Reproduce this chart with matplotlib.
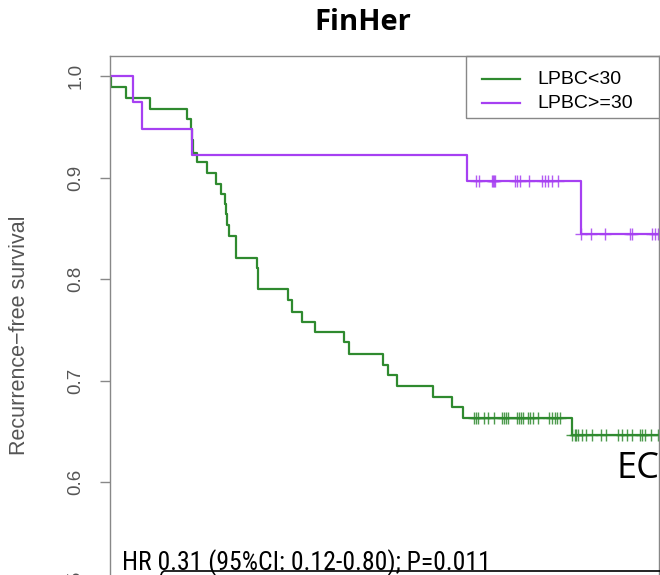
import matplotlib
matplotlib.use("Agg")
import matplotlib.pyplot as plt
import numpy as np
from matplotlib import font_manager
from matplotlib.font_manager import FontProperties
from matplotlib.lines import Line2D
from matplotlib.patches import Rectangle

# Kaplan-Meier steps (months, survival after each event)
green_t = [0, 0.1, 1.71, 4.40, 8.40, 8.84, 8.95, 9.09, 9.52, 10.55, 11.53, 12.08,
           12.58, 12.71, 12.82, 13.01, 13.75, 13.80, 16.07, 16.12, 16.20, 19.39,
           19.82, 20.91, 22.36, 25.56, 26.11, 29.81, 30.36, 31.28, 35.20, 37.28,
           38.54, 50.37, 62]
green_s = [1.0, 0.9895, 0.9786, 0.9678, 0.9583, 0.9478, 0.9372, 0.9241, 0.9156,
           0.9051, 0.8943, 0.8844, 0.8744, 0.8640, 0.8532, 0.8424, 0.8320, 0.8214,
           0.8108, 0.8007, 0.7901, 0.7793, 0.7678, 0.7579, 0.7481, 0.7382, 0.7268,
           0.7160, 0.7054, 0.6949, 0.6840, 0.6742, 0.6637, 0.6468, 0.6468]
green_cens = [39.71, 39.93, 40.15, 40.80, 41.24, 41.89, 42.76, 42.98, 43.20, 43.47,
              44.40, 44.62, 44.84, 45.05, 45.60, 45.82, 46.15, 46.75, 47.95, 48.22,
              48.60, 48.76, 49.09, 50.40, 50.73, 50.89, 51.05, 51.49, 51.93, 52.58,
              53.56, 54.11, 55.42, 55.85, 56.40, 56.95, 57.82, 58.09, 58.36, 59.02,
              59.78]

purple_t = [0, 2.54, 3.52, 8.91, 38.91, 51.35, 62]
purple_s = [1.0, 0.9747, 0.9485, 0.9229, 0.8968, 0.8443, 0.8443]
purple_cens = [39.93, 40.25, 41.67, 41.78, 41.89, 42.0, 44.18, 44.43, 44.73, 45.71,
               47.09, 47.45, 47.82, 48.19, 48.91, 51.40, 52.44, 54.0, 56.73, 56.91,
               59.13, 59.45, 59.8]

labels = ["LPBC<30", "LPBC>=30"]
colors = ["#2f8a2f", "#a640f2"]
yticks = [0.5, 0.6, 0.7, 0.8, 0.9, 1.0]
hr_text = "HR 0.31 (95%CI: 0.12-0.80); P=0.011"


def surv_at(t, times, surv):
    idx = np.searchsorted(times, t, side="right") - 1
    return np.asarray(surv)[idx]


def fx(px):
    return px / W


def fy(py):
    return 1 - py / H


W, H = 660, 575
fig = plt.figure(figsize=(W / 100, H / 100), dpi=100)
ax = fig.add_axes([110 / W, (H - 604) / H, 549 / W, 548 / H])

for t, s, cens, c in [(green_t, green_s, green_cens, colors[0]),
                      (purple_t, purple_s, purple_cens, colors[1])]:
    ax.plot(t, s, drawstyle="steps-post", color=c, lw=1.6)
    ax.plot(cens, surv_at(cens, t, s), ls="none", marker="+", ms=9, mew=1.0,
            color=c, alpha=0.85)

ax.set_xlim(0, 59.9)
ax.set_ylim(0.48, 1.02)
ax.set_yticks(yticks)
ax.set_yticklabels([f"{v:.1f}" for v in yticks], rotation=90, va="center",
                   fontsize=13.5, color="#555555", family="Liberation Sans")
ax.set_xticks([])
ax.tick_params(axis="y", length=7.2, width=1, color="#888888", pad=11)
for side in ["left", "top", "right", "bottom"]:
    ax.spines[side].set_color("#888888")
    ax.spines[side].set_linewidth(1)

fig.text(fx(20), fy(335), "Recurrence\u2212free survival", rotation=90,
         ha="center", va="center", fontsize=15.5, color="#555555",
         family="Liberation Sans")

# legend box, open to the right
fig.add_artist(Rectangle((fx(465.5), fy(118)), fx(240), 62 / H, fill=False,
                         edgecolor="#888888", lw=1, transform=fig.transFigure))
for row_y, c, lab in [(79, colors[0], labels[0]), (103, colors[1], labels[1])]:
    fig.add_artist(Line2D([fx(482), fx(520)], [fy(row_y), fy(row_y)], color=c,
                          lw=1.6, transform=fig.transFigure))
    fig.text(fx(537), fy(row_y), lab, ha="left", va="center", fontsize=14,
             family="Liberation Sans")

fig.text(fx(363), fy(22), "FinHer", ha="center", va="center",
         fontsize=21, fontweight="bold", family="Open Sans")
fig.text(fx(616), fy(478), "EC", ha="left", va="baseline",
         fontsize=26, family="Open Sans")

# narrow sans face for the hazard ratio line, if one is installed
narrow = None
for f in font_manager.fontManager.ttflist:
    nm = f.name
    if "Mono" in nm or "Serif" in nm or f.style != "normal":
        continue
    if f.weight not in (400, "normal", "regular", "book"):
        continue
    if "Narrow" in nm or "Condensed" in nm or str(f.stretch) in ("condensed", "semi-condensed"):
        narrow = f.fname
        if "Liberation" in nm or "Arial" in nm:
            break
hr_prop = FontProperties(fname=narrow) if narrow else FontProperties(family="Liberation Sans")
hr_prop.set_size(20)
hr = fig.text(fx(122), fy(570), hr_text, ha="left", va="baseline",
              fontproperties=hr_prop)
fig.canvas.draw()
wpx = hr.get_window_extent().width
hr.set_fontsize(20 * 370 / wpx)

# bracket line under the hazard ratio
bx = [fx(161), fx(162), fx(164), fx(660)]
by = [fy(575), fy(572.5), fy(571), fy(571)]
fig.add_artist(Line2D(bx, by, color="black", lw=1.2, transform=fig.transFigure))

fig.savefig("out.png", dpi=100)
